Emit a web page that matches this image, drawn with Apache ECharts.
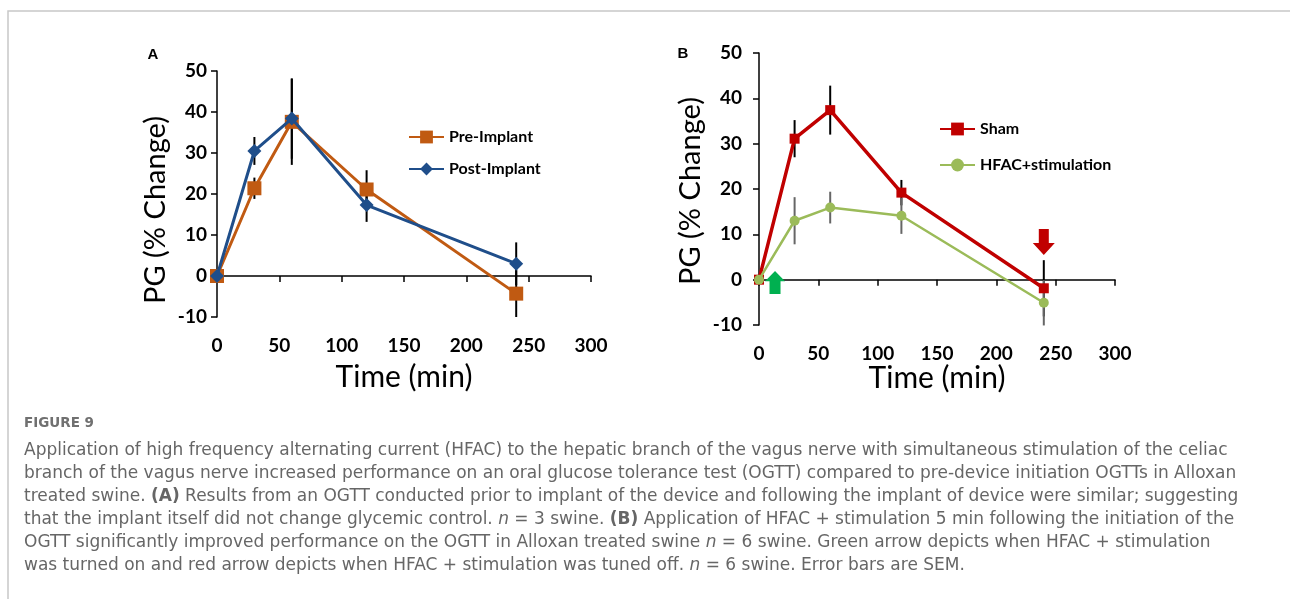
<!DOCTYPE html>
<html>
<head>
<meta charset="utf-8">
<script src="https://cdn.jsdelivr.net/npm/echarts@6/dist/echarts.min.js"></script>
<style>
html,body{margin:0;padding:0;background:#fff;}
#chart{width:1290px;height:599px;}
</style>
</head>
<body>
<div id="chart"></div>
<script>
// ---- data ----
const timesA = [0, 30, 60, 120, 240];
const preImplant = [0, 21.4, 37.6, 21.1, -4.3];
const preImplantSEM = [0, 2.6, 10.5, 4.7, 5.7];
const postImplant = [0, 30.5, 38.4, 17.3, 3.0];
const postImplantSEM = [0, 3.4, 9.8, 4.1, 5.2];

const timesB = [0, 30, 60, 120, 240];
const sham = [0, 31.1, 37.4, 19.2, -1.9];
const shamSEM = [0, 4.1, 5.4, 2.8, 6.2];
const hfac = [0, 13.0, 15.9, 14.1, -5.1];
const hfacSEM = [0, 5.2, 3.5, 4.0, 5.0];

const arrowOn = [13.5, -0.6];   // green arrow (HFAC on)
const arrowOff = [240, 8.3];    // red arrow (HFAC off)

const xTicks = [0, 50, 100, 150, 200, 250, 300];
const yTicks = [-10, 0, 10, 20, 30, 40, 50];

const captionTitle = 'FIGURE 9';
const captionLines = [
  'Application of high frequency alternating current (HFAC) to the hepatic branch of the vagus nerve with simultaneous stimulation of the celiac',
  'branch of the vagus nerve increased performance on an oral glucose tolerance test (OGTT) compared to pre-device initiation OGTTs in Alloxan',
  'treated swine. {b|(A)} Results from an OGTT conducted prior to implant of the device and following the implant of device were similar; suggesting',
  'that the implant itself did not change glycemic control. {i|n} = 3 swine. {b|(B)} Application of HFAC + stimulation 5 min following the initiation of the',
  'OGTT significantly improved performance on the OGTT in Alloxan treated swine {i|n} = 6 swine. Green arrow depicts when HFAC + stimulation',
  'was turned on and red arrow depicts when HFAC + stimulation was tuned off. {i|n} = 6 swine. Error bars are SEM.'
];

// ---- helpers ----
const pairs = (xs, ys) => xs.map((x, i) => [x, ys[i]]);
const errs = (xs, ys, es) => xs.map((x, i) => [x, ys[i] - es[i], ys[i] + es[i]]).filter((d, i) => es[i] > 0);

function errSeries(xi, yi, data, color, width) {
  return {
    type: 'custom', xAxisIndex: xi, yAxisIndex: yi, z: 1, silent: true,
    data: data,
    renderItem: function (params, api) {
      const p1 = api.coord([api.value(0), api.value(1)]);
      const p2 = api.coord([api.value(0), api.value(2)]);
      return { type: 'line', shape: { x1: p1[0], y1: p1[1], x2: p2[0], y2: p2[1] },
        style: { stroke: color, lineWidth: width } };
    }
  };
}

const FONT = 'Lato';
function xAxisDef(gi) {
  return {
    type: 'value', gridIndex: gi, min: 0, max: 300, interval: 50,
    axisLine: { lineStyle: { color: '#000', width: 1.5 } },
    axisTick: { show: true, length: 6, lineStyle: { color: '#000', width: 1.5 } },
    axisLabel: { color: '#000', fontFamily: FONT, fontWeight: 'bold', fontSize: 19, margin: 19,
      formatter: v => xTicks.includes(v) ? String(v) : '' },
    splitLine: { show: false }
  };
}
function yAxisDef(gi) {
  return {
    type: 'value', gridIndex: gi, min: -10, max: 50, interval: 10,
    axisLine: { show: true, onZero: false, lineStyle: { color: '#000', width: 1.5 } },
    axisTick: { show: true, length: 6, lineStyle: { color: '#000', width: 1.5 } },
    axisLabel: { color: '#000', fontFamily: FONT, fontWeight: 'bold', fontSize: 19, margin: gi === 0 ? 10 : 17,
      formatter: v => yTicks.includes(v) ? String(v) : '' },
    splitLine: { show: false }
  };
}

const C_PRE = '#C05A12', C_POST = '#1F4E8A', C_SHAM = '#C00000', C_HFAC = '#9BBB59';

const CAP_X = 24;
const CAP_SIZE = 17;
const CAP_COLOR = '#666';
const captionGraphics = [
  { type: 'text', x: CAP_X, y: 423, style: { text: captionTitle, font: 'bold 13.5px "DejaVu Sans"', fill: '#707070', textVerticalAlign: 'middle' } }
].concat(captionLines.map((t, i) => ({
  type: 'text', x: CAP_X, y: 451 + i * 23,
  style: {
    text: t, fontFamily: 'DejaVu Sans', fontSize: CAP_SIZE, fill: CAP_COLOR, textVerticalAlign: 'middle',
    rich: { b: { fontWeight: 'bold', fontFamily: 'DejaVu Sans', fontSize: CAP_SIZE, fill: CAP_COLOR },
            i: { fontStyle: 'italic', fontFamily: 'DejaVu Sans', fontSize: CAP_SIZE, fill: CAP_COLOR } }
  }
})));

const option = {
  animation: false,
  backgroundColor: '#fff',
  grid: [
    { left: 217, top: 71, width: 374, height: 246 },
    { left: 759, top: 53, width: 356, height: 272 }
  ],
  xAxis: [xAxisDef(0), xAxisDef(1)],
  yAxis: [yAxisDef(0), yAxisDef(1)],
  legend: [
    { orient: 'vertical', left: 408, top: 129, padding: 0, itemWidth: 35, itemHeight: 16, itemGap: 16,
      data: ['Pre-Implant', 'Post-Implant'],
      textStyle: { fontFamily: FONT, fontWeight: 'bold', fontSize: 16, color: '#000' } },
    { orient: 'vertical', left: 939, top: 121, padding: 0, itemWidth: 35, itemHeight: 16, itemGap: 20,
      data: ['Sham', 'HFAC+stimulation'],
      textStyle: { fontFamily: FONT, fontWeight: 'bold', fontSize: 16, color: '#000' } }
  ],
  graphic: [
    { type: 'rect', shape: { x: 8, y: 11, width: 1290, height: 600 }, style: { fill: 'none', stroke: '#c8c8c8', lineWidth: 1.5 }, z: 0 },
    { type: 'text', x: 153, y: 55, style: { text: 'A', font: 'bold 15px "Liberation Sans"', fill: '#000', textAlign: 'center', textVerticalAlign: 'middle' } },
    { type: 'text', x: 683, y: 54, style: { text: 'B', font: 'bold 15px "Liberation Sans"', fill: '#000', textAlign: 'center', textVerticalAlign: 'middle' } },
    { type: 'text', x: 156, y: 210, rotation: Math.PI / 2, style: { text: 'PG (% Change)', font: '29px ' + FONT, fill: '#000', textAlign: 'center', textVerticalAlign: 'middle' } },
    { type: 'text', x: 691, y: 191, rotation: Math.PI / 2, style: { text: 'PG (% Change)', font: '29px ' + FONT, fill: '#000', textAlign: 'center', textVerticalAlign: 'middle' } },
    { type: 'text', x: 404, y: 377, style: { text: 'Time (min)', font: '30px ' + FONT, fill: '#000', textAlign: 'center', textVerticalAlign: 'middle' } },
    { type: 'text', x: 937, y: 378, style: { text: 'Time (min)', font: '30px ' + FONT, fill: '#000', textAlign: 'center', textVerticalAlign: 'middle' } }
  ].concat(captionGraphics),
  series: [
    errSeries(0, 0, errs(timesA, preImplant, preImplantSEM), '#000', 2),
    errSeries(0, 0, errs(timesA, postImplant, postImplantSEM), '#000', 2),
    errSeries(1, 1, errs(timesB, sham, shamSEM), '#000', 2),
    errSeries(1, 1, errs(timesB, hfac, hfacSEM), '#666', 2),
    { name: 'Pre-Implant', type: 'line', xAxisIndex: 0, yAxisIndex: 0, z: 3,
      data: pairs(timesA, preImplant), symbol: 'rect', symbolSize: 14,
      lineStyle: { color: C_PRE, width: 3 }, itemStyle: { color: C_PRE } },
    { name: 'Post-Implant', type: 'line', xAxisIndex: 0, yAxisIndex: 0, z: 4,
      data: pairs(timesA, postImplant), symbol: 'diamond', symbolSize: 14,
      lineStyle: { color: C_POST, width: 3 }, itemStyle: { color: C_POST } },
    { name: 'Sham', type: 'line', xAxisIndex: 1, yAxisIndex: 1, z: 3,
      data: pairs(timesB, sham), symbol: 'rect', symbolSize: 10,
      lineStyle: { color: C_SHAM, width: 3.5 }, itemStyle: { color: C_SHAM },
      markPoint: { silent: true, label: { show: false },
        data: [{ coord: arrowOff, symbol: 'path://M6,0 L16,0 L16,14 L22,14 L11,26 L0,14 L6,14 Z', symbolSize: [22, 26], symbolKeepAspect: false, itemStyle: { color: C_SHAM } }] } },
    { name: 'HFAC+stimulation', type: 'line', xAxisIndex: 1, yAxisIndex: 1, z: 4,
      data: pairs(timesB, hfac), symbol: 'circle', symbolSize: 10,
      lineStyle: { color: C_HFAC, width: 2.5 }, itemStyle: { color: C_HFAC },
      markPoint: { silent: true, label: { show: false },
        data: [{ coord: arrowOn, symbol: 'path://M10,0 L20,10 L15.5,10 L15.5,22 L4.5,22 L4.5,10 L0,10 Z', symbolSize: [20, 23], symbolKeepAspect: false, itemStyle: { color: '#00B050' } }] } }
  ]
};

const chart = echarts.init(document.getElementById('chart'), null, { renderer: 'canvas' });
chart.setOption(option);
</script>
</body>
</html>
